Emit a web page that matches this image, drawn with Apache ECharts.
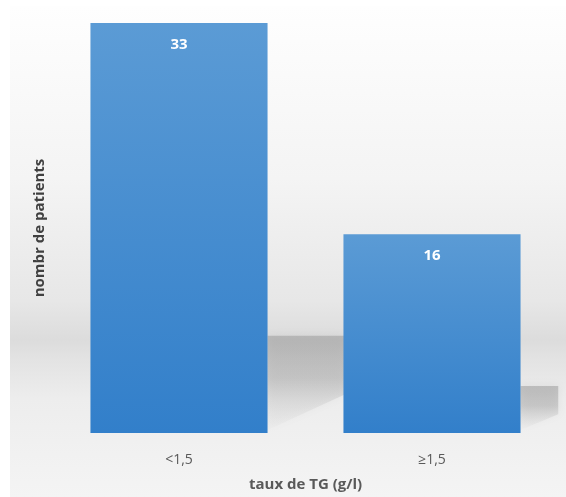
<!DOCTYPE html>
<html>
<head>
<meta charset="utf-8">
<script src="https://cdn.jsdelivr.net/npm/echarts@6/dist/echarts.min.js"></script>
<style>
  html, body { margin: 0; padding: 0; background: #ffffff; }
  #chart { width: 566px; height: 497px; }
</style>
</head>
<body>
<div id="chart"></div>
<script>
// Patients grouped by triglyceride level
const categories = ['<1,5', '≥1,5'];
const patients = [33, 16];
const xTitle = 'taux de TG (g/l)';
const yTitle = 'nombr de patients';

const chart = echarts.init(document.getElementById('chart'), null, { renderer: 'canvas' });

// Soft floor shadow cast to the right of each bar, sized from the bar's own height
function renderShadow(params, api) {
  const idx = api.value(0);
  const top = api.coord([idx, api.value(1)]);
  const base = api.coord([idx, 0]);
  const band = api.size([1, 0])[0];
  const barW = band * 0.7;
  const xR = base[0] + barW / 2;
  const h = (base[1] - top[1]) * 0.237;
  const sTop = base[1] - h;
  const w = h * 0.8;
  return {
    type: 'polygon',
    shape: {
      points: [
        [xR, sTop],
        [xR + w, sTop],
        [xR + w, sTop + h * 0.6],
        [xR, base[1] - 3]
      ]
    },
    style: {
      fill: new echarts.graphic.LinearGradient(0, 0, 0, 1, [
        { offset: 0, color: 'rgba(150,150,150,0.5)' },
        { offset: 0.45, color: 'rgba(160,160,160,0.42)' },
        { offset: 1, color: 'rgba(210,210,210,0.08)' }
      ]),
      shadowBlur: 8,
      shadowColor: 'rgba(170,170,170,0.45)'
    }
  };
}

chart.setOption({
  animation: false,
  backgroundColor: '#ffffff',
  graphic: [
    {
      type: 'rect',
      z: -10,
      silent: true,
      shape: { x: 10, y: 6, width: 556, height: 491 },
      style: {
        fill: new echarts.graphic.LinearGradient(0, 0, 0, 1, [
          { offset: 0, color: '#fefefe' },
          { offset: 0.35, color: '#f4f4f4' },
          { offset: 0.6, color: '#e7e7e7' },
          { offset: 0.68, color: '#dcdcdc' },
          { offset: 0.72, color: '#e3e3e3' },
          { offset: 0.8, color: '#ededed' },
          { offset: 1, color: '#f4f4f4' }
        ])
      }
    }
  ],
  grid: { left: 52.5, right: 7.5, top: 23, bottom: 62, containLabel: false },
  xAxis: {
    type: 'category',
    data: categories,
    axisLine: { show: false },
    axisTick: { show: false },
    axisLabel: {
      margin: 20,
      color: '#595959',
      fontFamily: 'Open Sans',
      fontSize: 14
    },
    name: xTitle,
    nameLocation: 'middle',
    nameGap: 44,
    nameTextStyle: {
      color: '#595959',
      fontFamily: 'Open Sans',
      fontWeight: 'bold',
      fontSize: 15
    }
  },
  yAxis: {
    type: 'value',
    min: 0,
    max: 33,
    axisLine: { show: false },
    axisTick: { show: false },
    axisLabel: { show: false },
    splitLine: { show: false },
    name: yTitle,
    nameLocation: 'middle',
    nameRotate: 90,
    nameGap: 5,
    nameTextStyle: {
      color: '#404040',
      fontFamily: 'Open Sans',
      fontWeight: 'bold',
      fontSize: 15
    }
  },
  series: [
    {
      type: 'custom',
      z: 1,
      silent: true,
      renderItem: renderShadow,
      encode: { x: 0, y: 1 },
      data: patients.map((v, i) => [i, v])
    },
    {
      type: 'bar',
      z: 3,
      barWidth: '70%',
      data: patients,
      itemStyle: {
        color: new echarts.graphic.LinearGradient(0, 0, 0, 1, [
          { offset: 0, color: '#5b9bd5' },
          { offset: 1, color: '#327fca' }
        ])
      },
      label: {
        show: true,
        position: 'insideTop',
        distance: 14,
        color: '#ffffff',
        fontFamily: 'Open Sans',
        fontWeight: 'bold',
        fontSize: 15
      }
    }
  ]
});
</script>
</body>
</html>
